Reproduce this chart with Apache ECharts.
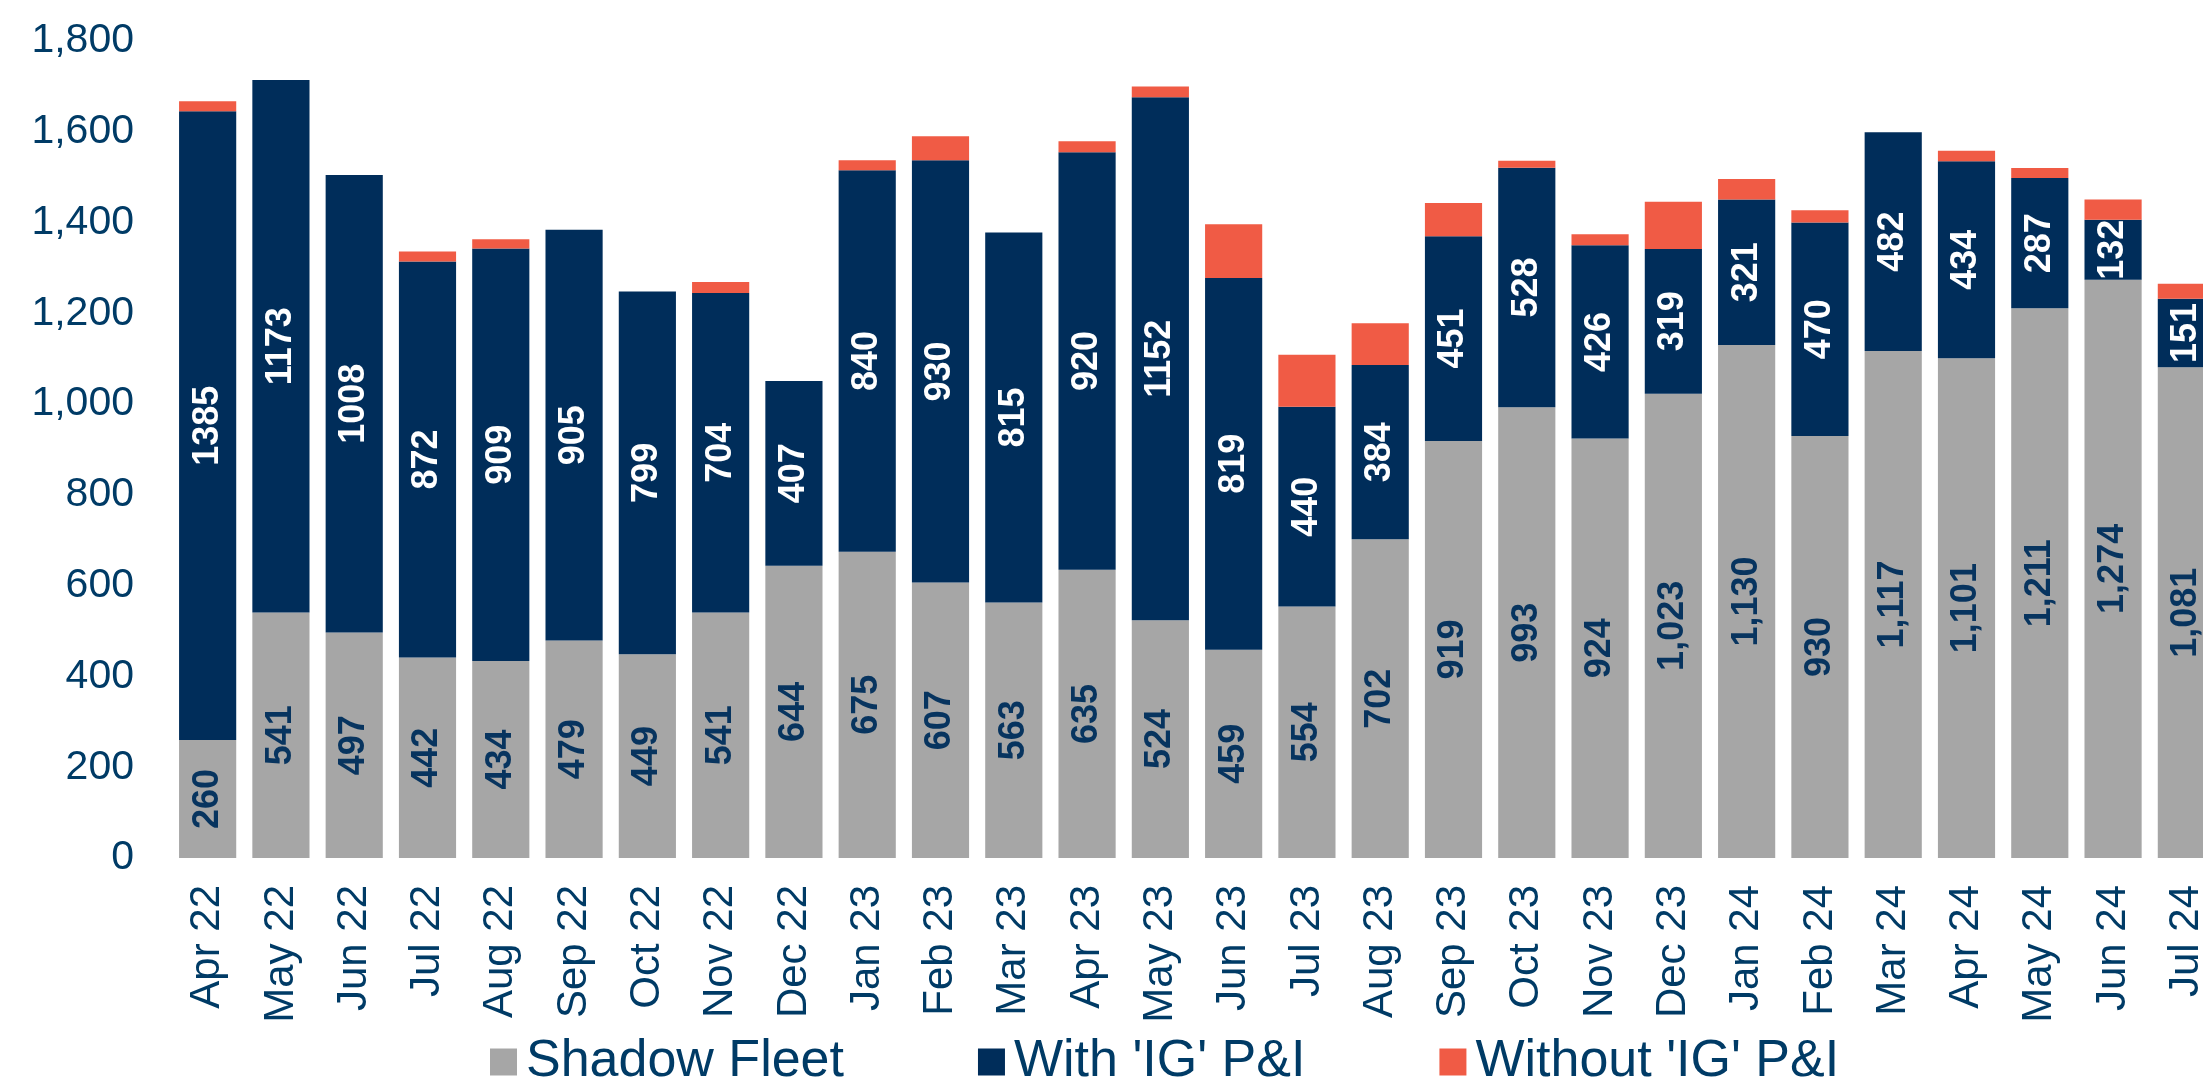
<!DOCTYPE html>
<html>
<head>
<meta charset="utf-8">
<script src="https://cdn.jsdelivr.net/npm/echarts@6/dist/echarts.min.js"></script>
<style>
  html, body { margin: 0; padding: 0; background: #fff; overflow: hidden; }
  /* a little wider than the window: the last bar runs past the right edge in the original */
  #chart { width: 2223px; height: 1085px; }
</style>
</head>
<body>
<div id="chart"></div>
<script>
var months = ['Apr 22', 'May 22', 'Jun 22', 'Jul 22', 'Aug 22', 'Sep 22', 'Oct 22', 'Nov 22', 'Dec 22',
  'Jan 23', 'Feb 23', 'Mar 23', 'Apr 23', 'May 23', 'Jun 23', 'Jul 23', 'Aug 23', 'Sep 23', 'Oct 23',
  'Nov 23', 'Dec 23', 'Jan 24', 'Feb 24', 'Mar 24', 'Apr 24', 'May 24', 'Jun 24', 'Jul 24'];
var shadowFleet = [260, 541, 497, 442, 434, 479, 449, 541, 644, 675, 607, 563, 635, 524, 459, 554, 702,
  919, 993, 924, 1023, 1130, 930, 1117, 1101, 1211, 1274, 1081];
var withIG = [1385, 1173, 1008, 872, 909, 905, 799, 704, 407, 840, 930, 815, 920, 1152, 819, 440, 384,
  451, 528, 426, 319, 321, 470, 482, 434, 287, 132, 151];
// no labels in the picture
var withoutIG = [22, 0, 0, 22, 20, 0, 0, 24, 0, 22, 53, 0, 24, 24, 118, 115, 92, 73, 15, 24, 104, 45,
  27, 0, 23, 22, 45, 33];
var yTicks = [0, 200, 400, 600, 800, 1000, 1200, 1400, 1600, 1800];

var textColor = '#003B66';
var font = '"Liberation Sans", Arial, sans-serif';

var chart = echarts.init(document.getElementById('chart'));

function fmt(v) {
  return String(v).replace(/\B(?=(\d{3})+(?!\d))/g, ',');
}

var option = {
  animation: false,
  textStyle: { fontFamily: font },
  grid: { left: 171, right: 0, top: 41, bottom: 227, containLabel: false },
  legend: {
    left: 490,
    top: 1036,
    padding: 0,
    itemGap: 134,
    itemWidth: 27,
    itemHeight: 27,
    icon: 'rect',
    textStyle: { color: textColor, fontSize: 52, lineHeight: 52, fontFamily: font, padding: [0, 0, 0, 4] },
    data: ['Shadow Fleet', "With 'IG' P&I", "Without 'IG' P&I"]
  },
  xAxis: {
    type: 'category',
    data: months,
    axisLine: { show: false },
    axisTick: { show: false },
    axisLabel: {
      rotate: 90,
      interval: 0,
      margin: 27,
      color: textColor,
      fontSize: 42,
      fontFamily: font
    }
  },
  yAxis: {
    type: 'value',
    min: yTicks[0],
    max: yTicks[yTicks.length - 1],
    interval: 200,
    splitLine: { show: false },
    axisLine: { show: false },
    axisTick: { show: false },
    axisLabel: {
      margin: 37,
      color: textColor,
      fontSize: 41,
      fontFamily: font,
      formatter: function (v) { return fmt(v); }
    }
  },
  series: [
    {
      name: 'Shadow Fleet',
      type: 'bar',
      stack: 'total',
      barCategoryGap: '22%',
      data: shadowFleet,
      itemStyle: { color: '#A6A6A6' },
      label: {
        show: true,
        position: 'inside',
        rotate: 90,
        color: '#07345F',
        fontSize: 36,
        fontWeight: 'bold',
        fontFamily: font,
        formatter: function (p) { return fmt(p.value); }
      }
    },
    {
      name: "With 'IG' P&I",
      type: 'bar',
      stack: 'total',
      data: withIG,
      itemStyle: { color: '#002D5A' },
      label: {
        show: true,
        position: 'inside',
        rotate: 90,
        color: '#ffffff',
        fontSize: 36,
        fontWeight: 'bold',
        fontFamily: font
      }
    },
    {
      name: "Without 'IG' P&I",
      type: 'bar',
      stack: 'total',
      data: withoutIG,
      itemStyle: { color: '#F05B45' }
    }
  ]
};

chart.setOption(option);
</script>
</body>
</html>
